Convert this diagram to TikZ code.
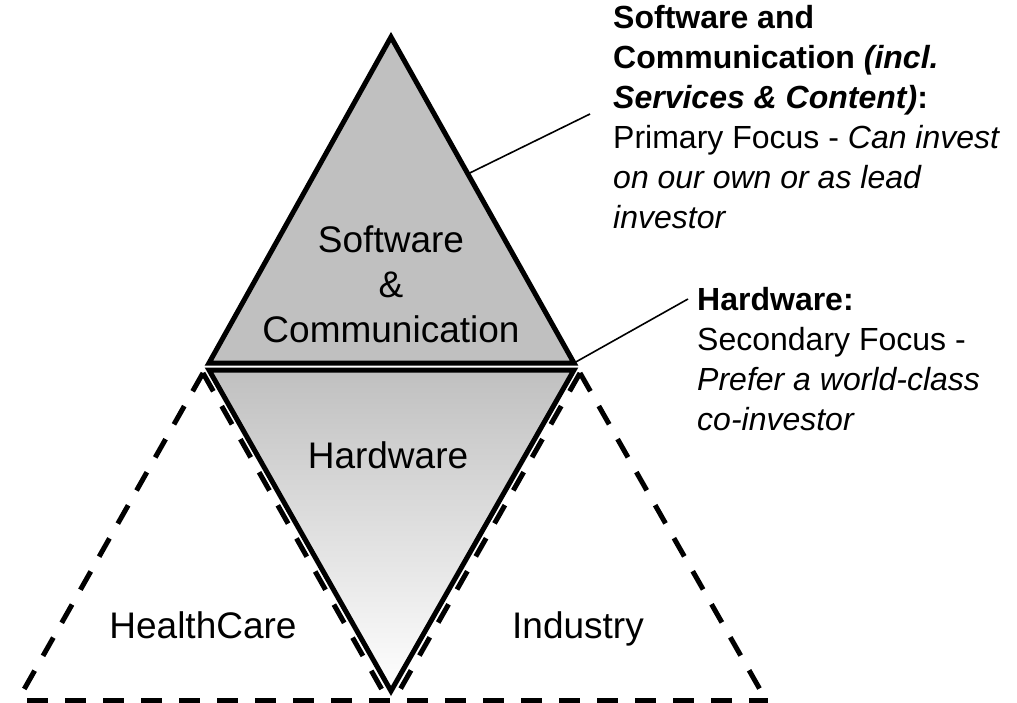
\documentclass[tikz,border=0pt]{standalone}
\usepackage{fontspec}
\setmainfont{Liberation Sans}
\usetikzlibrary{calc}
\definecolor{trigray}{HTML}{C0C0C0}
\begin{document}
\begin{tikzpicture}[x=1pt,y=-1pt,
  solidtri/.style={draw=black,line width=5pt,line join=miter},
  dashtri/.style={draw=black,line width=5pt,dash pattern=on 21pt off 17pt},
  leader/.style={draw=black,line width=1.6pt},
  biglabel/.style={font=\fontsize{37}{45}\selectfont,inner sep=0pt,align=center},
  sidetext/.style={font=\fontsize{32}{40}\selectfont,inner sep=0pt,align=left,anchor=north west}]
\useasboundingbox (0,0) rectangle (1017,703);
% vertices
\coordinate (apex) at (391,37);
\coordinate (tl) at (209,363);
\coordinate (tr) at (574,363);
\coordinate (hl) at (209,370);
\coordinate (hr) at (574,370);
\coordinate (bot) at (391,691);
% dashed side triangles
\coordinate (ltop) at (203,373);
\coordinate (lleft) at (22,693);
\coordinate (lright) at (385,695);
\coordinate (rtop) at (580,373);
\coordinate (rleft) at (397,695);
\coordinate (rright) at (762,693);
\coordinate (baseL) at (27,700);
\coordinate (baseR) at (768,700);
% hardware inverted triangle
\path[top color=trigray,bottom color=white] (hl) -- (hr) -- (bot) -- cycle;
\draw[solidtri] (hl) -- (hr) -- (bot) -- cycle;
% software triangle
\draw[solidtri,fill=trigray] (apex) -- (tr) -- (tl) -- cycle;
% dashed triangles
\draw[dashtri] (ltop) -- (lleft);
\draw[dashtri] (ltop) -- (lright);
\draw[dashtri] (rtop) -- (rright);
\draw[dashtri] (rtop) -- (rleft);
\draw[dashtri] (baseL) -- (baseR);
% labels
\node[biglabel] (swlabel) at (391,284) {Software\\\&\\Communication};
\node[biglabel] (hwlabel) at (388,455) {Hardware};
\node[biglabel,anchor=base] (hclabel) at (203,638) {HealthCare};
\node[biglabel,anchor=base] (indlabel) at (578,638) {Industry};
% side texts
\node[sidetext] (swtext) at (613,5) {\textbf{Software and}\\\textbf{Communication \textit{(incl.}}\\\textbf{\textit{Services \& Content)}:}\\Primary Focus - \textit{Can invest}\\\textit{on our own or as lead}\\\textit{investor}};
\node[sidetext] (hwtext) at (697,287) {\textbf{Hardware:}\\Secondary Focus -\\\textit{Prefer a world-class}\\\textit{co-investor}};
% leaders
\coordinate (swfrom) at ($(apex)!0.42!(tr)$);
\coordinate (swto) at (590,114);
\coordinate (hwto) at (688,299);
\draw[leader] (swfrom) -- (swto);
\draw[leader] (tr) -- (hwto);
\end{tikzpicture}
\end{document}
